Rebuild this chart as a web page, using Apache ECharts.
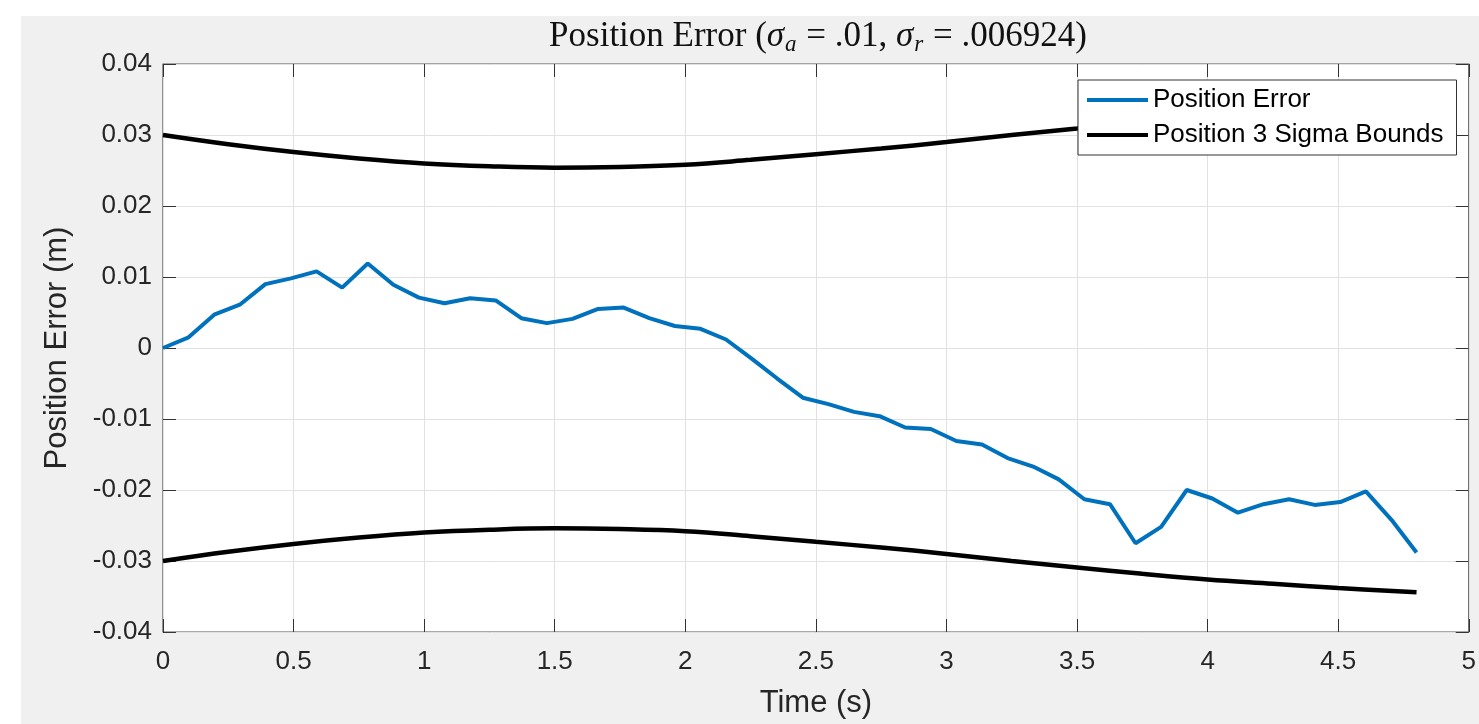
<!DOCTYPE html>
<html>
<head>
<meta charset="utf-8">
<script src="https://cdn.jsdelivr.net/npm/echarts@6/dist/echarts.min.js"></script>
<style>
html,body{margin:0;padding:0;background:#fff;}
#chart{width:1479px;height:724px;}
</style>
</head>
<body>
<div id="chart"></div>
<script>
// ---- data ----
const times = [0,0.098,0.196,0.294,0.392,0.49,0.588,0.686,0.784,0.882,0.98,1.078,1.176,1.274,1.372,1.47,1.568,1.666,1.764,1.862,1.96,2.058,2.156,2.254,2.352,2.45,2.548,2.646,2.744,2.842,2.94,3.038,3.136,3.234,3.332,3.43,3.528,3.626,3.724,3.822,3.92,4.018,4.116,4.214,4.312,4.41,4.508,4.606,4.704,4.8];
const positionError = [0,0.0015,0.0047,0.0061,0.0090,0.0098,0.0108,0.0085,0.0119,0.0089,0.0071,0.0063,0.0070,0.0067,0.0042,0.0035,0.0041,0.0055,0.0057,0.0042,0.0031,0.0027,0.0012,-0.0015,-0.0043,-0.0070,-0.0079,-0.0090,-0.0096,-0.0112,-0.0114,-0.0131,-0.0136,-0.0155,-0.0167,-0.0185,-0.0213,-0.0220,-0.0275,-0.0252,-0.0200,-0.0212,-0.0232,-0.0220,-0.0213,-0.0221,-0.0217,-0.0202,-0.0242,-0.0288];
const boundTimes = [0,0.25,0.5,0.75,1,1.25,1.5,1.75,2,2.25,2.5,2.75,3,3.25,3.5,3.75,4,4.25,4.5,4.8];
const upperBound = [0.0300,0.0287,0.0276,0.0267,0.0260,0.0256,0.0254,0.0255,0.0258,0.0265,0.0273,0.0281,0.0290,0.0300,0.0309,0.0318,0.0326,0.0332,0.0338,0.0344];
const lowerBound = [-0.0300,-0.0287,-0.0276,-0.0267,-0.0260,-0.0256,-0.0254,-0.0255,-0.0258,-0.0265,-0.0273,-0.0281,-0.0290,-0.0300,-0.0309,-0.0318,-0.0326,-0.0332,-0.0338,-0.0344];
const seriesNames = ['Position Error', 'Position 3 Sigma Bounds'];
const xTitle = 'Time (s)';
const yTitle = 'Position Error (m)';

const pair = (xs, ys) => xs.map((x, i) => [x, ys[i]]);

const chart = echarts.init(document.getElementById('chart'), null, {renderer: 'canvas'});
const axisColor = '#333';
const gridColor = '#e1e1e1';
const sans = 'Liberation Sans, Arial, Helvetica, sans-serif';
const serif = 'Liberation Serif, DejaVu Serif, serif';

const baseX = {
  type: 'value', min: 0, max: 5, interval: 0.5,
  axisLine: {show: false, onZero: false},
  axisTick: {show: true, inside: true, length: 13, lineStyle: {color: axisColor, width: 1}},
  splitLine: {show: false}
};
const baseY = {
  type: 'value', min: -0.04, max: 0.04, interval: 0.01,
  axisLine: {show: false, onZero: false},
  axisTick: {show: true, inside: true, length: 13, lineStyle: {color: axisColor, width: 1}},
  splitLine: {show: false}
};

chart.setOption({
  animation: false,
  backgroundColor: '#ffffff',
  graphic: [
    {type: 'rect', z: -10, shape: {x: 21, y: 16, width: 1479, height: 724}, style: {fill: '#f0f0f0'}},
    {type: 'text', z: 10, x: 818, y: 37, style: {
      text: '{n|Position Error (}{s|σ}{sa|a}{n| = .01, }{s|σ}{sa|r}{n| = .006924)}',
      align: 'center', verticalAlign: 'middle',
      rich: {
        n: {fontFamily: serif, fontSize: 35, fill: '#111'},
        s: {fontFamily: serif, fontSize: 35, fontStyle: 'italic', fill: '#111'},
        sa: {fontFamily: serif, fontSize: 23, fontStyle: 'italic', fill: '#111', padding: [15, 1, 0, 1]}
      }
    }}
  ],
  grid: {
    left: 163, right: 5, top: 64, bottom: 88,
    show: true, backgroundColor: '#ffffff', borderColor: '#555', borderWidth: 1.2,
    containLabel: false
  },
  legend: {
    data: seriesNames,
    orient: 'vertical', align: 'left',
    left: 1078, top: 80,
    padding: [5, 13, 5, 9],
    itemGap: 5,
    itemWidth: 61, itemHeight: 4,
    icon: 'rect',
    backgroundColor: '#ffffff',
    borderColor: '#333', borderWidth: 1,
    textStyle: {fontFamily: sans, fontSize: 26, color: '#000', lineHeight: 30}
  },
  xAxis: [
    Object.assign({}, baseX, {
      position: 'bottom',
      name: xTitle, nameLocation: 'middle', nameGap: 56,
      nameTextStyle: {fontFamily: sans, fontSize: 31, color: '#262626'},
      axisLabel: {show: true, margin: 17, fontFamily: sans, fontSize: 26, color: '#262626'},
      splitLine: {show: true, lineStyle: {color: gridColor, width: 1}}
    }),
    Object.assign({}, baseX, {position: 'top', axisLabel: {show: false}})
  ],
  yAxis: [
    Object.assign({}, baseY, {
      position: 'left',
      name: yTitle, nameLocation: 'middle', nameGap: 90,
      nameTextStyle: {fontFamily: sans, fontSize: 31, color: '#262626'},
      axisLabel: {show: true, margin: 11, fontFamily: sans, fontSize: 26, color: '#262626'},
      splitLine: {show: true, lineStyle: {color: gridColor, width: 1}}
    }),
    Object.assign({}, baseY, {position: 'right', axisLabel: {show: false}})
  ],
  series: [
    {
      name: seriesNames[0], type: 'line', xAxisIndex: 0, yAxisIndex: 0,
      data: pair(times, positionError),
      showSymbol: false, symbol: 'none',
      lineStyle: {color: '#0072BD', width: 4},
      itemStyle: {color: '#0072BD'}, z: 3
    },
    {
      name: seriesNames[1], type: 'line', xAxisIndex: 0, yAxisIndex: 0,
      data: pair(boundTimes, upperBound), smooth: 0.4,
      showSymbol: false, symbol: 'none',
      lineStyle: {color: '#000', width: 4.5},
      itemStyle: {color: '#000'}, z: 2
    },
    {
      name: seriesNames[1], type: 'line', xAxisIndex: 0, yAxisIndex: 0,
      data: pair(boundTimes, lowerBound), smooth: 0.4,
      showSymbol: false, symbol: 'none',
      lineStyle: {color: '#000', width: 4.5},
      itemStyle: {color: '#000'}, z: 2
    }
  ]
});
</script>
</body>
</html>
